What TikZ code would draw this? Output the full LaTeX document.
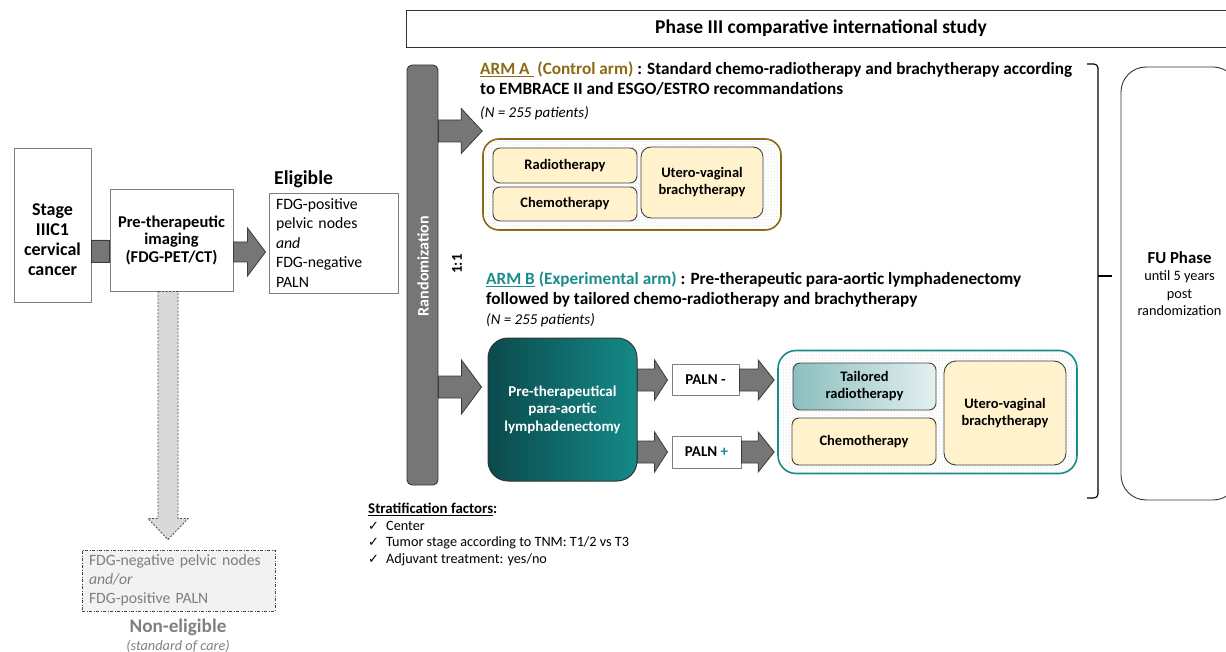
\documentclass[tikz,border=0pt]{standalone}
\usepackage{fontspec}
\setmainfont{Carlito}
\newfontfamily\symfont{DejaVu Sans}
\usetikzlibrary{calc,patterns}

\definecolor{armgold}{HTML}{8A6A14}
\definecolor{armteal}{HTML}{1B8C8A}
\definecolor{cream}{HTML}{FFF2CC}
\definecolor{arrowfill}{HTML}{767676}
\definecolor{arrowline}{HTML}{3A3A3A}
\definecolor{boxline}{HTML}{7F7F7F}
\definecolor{darkteal}{HTML}{0B4A4C}
\definecolor{lightteal}{HTML}{148A88}
\definecolor{softteal}{HTML}{8CBEBE}
\definecolor{paleteal}{HTML}{E4F0F0}
\definecolor{greytext}{HTML}{7F7F7F}

\newcommand\fs[2]{\fontsize{#1}{#2}\selectfont}
\newcommand\tick{{\symfont\fs{13}{16.5}✓}}

% right-pointing block arrow: style, from, to, shaft half-height, head half-height, head length
\newcommand\harrow[6]{\draw[#1] let \p1=#2, \p2=#3 in
  ({\x1},{\y1+#4pt}) -- ({\x2-#6pt},{\y1+#4pt}) -- ({\x2-#6pt},{\y1+#5pt}) -- ({\x2},{\y1})
  -- ({\x2-#6pt},{\y1-#5pt}) -- ({\x2-#6pt},{\y1-#4pt}) -- ({\x1},{\y1-#4pt}) -- cycle;}
% downward block arrow: style, from, to, shaft half-width, head half-width, head length
\newcommand\varrow[6]{\draw[#1] let \p1=#2, \p2=#3 in
  ({\x1-#4pt},{\y1}) -- ({\x1-#4pt},{\y2+#6pt}) -- ({\x1-#5pt},{\y2+#6pt}) -- ({\x1},{\y2})
  -- ({\x1+#5pt},{\y2+#6pt}) -- ({\x1+#4pt},{\y2+#6pt}) -- ({\x1+#4pt},{\y1}) -- cycle;}

\begin{document}
\begin{tikzpicture}[x=1pt,y=-1pt,
  plain/.style={draw=boxline, line width=0.9pt, fill=white, inner sep=0pt, align=center},
  blockarrow/.style={fill=arrowfill, draw=arrowline, line width=0.8pt, line join=miter},
  dasharrow/.style={fill=gray!30, draw=gray!60!black, line width=0.8pt, dash pattern=on 2pt off 1.5pt},
  cell/.style={draw=black!75, line width=0.9pt, fill=cream, rounded corners=7pt, inner sep=0pt,
    align=center, font=\fs{14.5}{17}\bfseries},
  container/.style={rounded corners=16pt, line width=1.6pt, pattern=dots, pattern color=black!22, inner sep=0pt},
  palnbox/.style={draw=boxline, line width=0.9pt, fill=white, inner sep=0pt, font=\fs{15}{18}\bfseries},
]
\useasboundingbox (0,0) rectangle (1226,652);

% arrow levels
\coordinate (lvA) at (0,251);
\coordinate (lvB) at (0,252);
\coordinate (lvC) at (0,131);
\coordinate (lvD) at (0,387);
\coordinate (lvE) at (0,380);
\coordinate (lvF) at (0,452);
\coordinate (colN) at (168,0);

% left part: screening
\node[plain, minimum width=77pt, minimum height=154pt] (stage) at (52.5,225) {};
\node[inner sep=0pt, align=center, font=\fs{18}{20}\bfseries] (stagetxt) at (52.5,240)
  {Stage\\IIIC1\\cervical\\cancer};
\node[plain, minimum width=123pt, minimum height=102pt, font=\fs{16.5}{17.5}\bfseries]
  (pre) at (171.5,240) {Pre-therapeutic\\imaging\\(FDG-PET/CT)};
\node[plain, minimum height=100pt, text width=115pt, inner xsep=7pt, align=left, font=\fs{15.8}{19.5}]
  (elig) at (333.5,243) {FDG-positive\\pelvic nodes\\\textit{and}\\FDG-negative\\PALN};
\node[anchor=west, inner sep=0pt, font=\fs{19.7}{22}\bfseries] (eligtitle) at (274,179) {Eligible};

\harrow{blockarrow}{(stage.east |- lvA)}{(pre.west |- lvA)}{11}{11}{0}
\harrow{blockarrow}{(pre.east |- lvB)}{([xshift=-3pt]elig.west |- lvB)}{10}{24}{18}

% non-eligible branch
\node[draw=gray!55!black, line width=0.9pt, dash pattern=on 3pt off 1.5pt on 1pt off 1.5pt,
  fill=gray!10, minimum height=61pt, text width=179pt, inner xsep=7pt, inner ysep=0pt, align=left,
  text=greytext, font=\fs{15.7}{19}] (nonelig) at (178.5,580.5)
  {FDG-negative pelvic nodes\\\textit{and/or}\\FDG-positive PALN};
\varrow{dasharrow}{(colN |- pre.south)}{([yshift=10pt]nonelig.north -| colN)}{10}{20}{21}
\node[text=greytext, inner sep=0pt, font=\fs{19.2}{22}\bfseries] (noneligtitle) at (178,627) {Non-eligible};
\node[text=greytext, inner sep=0pt, font=\fs{14.3}{16}\itshape] (soc) at (178,646) {(standard of care)};

% study header
\node[draw=black!80, line width=0.9pt, minimum width=830pt, minimum height=37pt, inner sep=0pt,
  font=\fs{19.5}{22}\bfseries] (header) at (821,28.5) {Phase III comparative international study};

% randomization bar
\node[fill=arrowfill, draw=arrowline, line width=0.9pt, rounded corners=5pt,
  minimum width=31pt, minimum height=420pt, inner sep=0pt] (bar) at (422.5,275) {};
\node[rotate=90, text=white, inner sep=0pt, font=\fs{16}{19}\bfseries] (randtxt) at (423,266) {Randomization};
\node[rotate=90, inner sep=0pt, font=\fs{15}{18}\bfseries] (ratio) at (457,264) {1:1};

% arm A
\node[anchor=north west, align=left, inner sep=0pt, font=\fs{17.2}{20}\bfseries] (armAtitle) at (480,62)
  {{\color{armgold}\underline{ARM A\ }\ (Control arm)} : Standard chemo-radiotherapy and brachytherapy according\\
   to EMBRACE II and ESGO/ESTRO recommandations};
\node[anchor=west, inner sep=0pt, font=\fs{15}{17}\itshape] (armAn) at (480,113) {(N = 255 patients)};
\node[container, draw=armgold, minimum width=298pt, minimum height=91pt] (armA) at (632,184.5) {};
\node[cell, minimum width=144pt, minimum height=35pt] (radA) at (565,165.5) {Radiotherapy};
\node[cell, minimum width=144pt, minimum height=34pt] (chemoA) at (565,204) {Chemotherapy};
\node[cell, rounded corners=10pt, minimum width=122pt, minimum height=71pt] (brachyA) at (702,182.5)
  {Utero-vaginal\\brachytherapy};
\harrow{blockarrow}{(bar.east |- lvC)}{(armA.west |- lvC)}{11}{22.5}{21}

% arm B
\node[anchor=north west, align=left, inner sep=0pt, font=\fs{17.2}{20}\bfseries] (armBtitle) at (486,272)
  {{\color{armteal}\underline{ARM B} (Experimental arm)} : Pre-therapeutic para-aortic lymphadenectomy\\
   followed by tailored chemo-radiotherapy and brachytherapy};
\node[anchor=west, inner sep=0pt, font=\fs{15}{17}\itshape] (armBn) at (486,320) {(N = 255 patients)};

\node[draw=black!80, line width=1pt, rounded corners=20pt, left color=darkteal, right color=lightteal,
  minimum width=149pt, minimum height=143pt, inner sep=0pt, align=center, text=white,
  font=\fs{15}{17.5}\bfseries] (lymph) at (562.5,409.5) {Pre-therapeutical\\para-aortic\\lymphadenectomy};
\harrow{blockarrow}{(bar.east |- lvD)}{([xshift=-6pt]lymph.west |- lvD)}{11}{27}{20}

\node[palnbox, minimum width=67pt, minimum height=31pt] (palnm) at (705.5,379.5) {PALN -};
\node[palnbox, minimum width=69pt, minimum height=32pt] (palnp) at (706.5,452) {PALN \textcolor{armteal}{+}};
\harrow{blockarrow}{(lymph.east |- lvE)}{([xshift=-4pt]palnm.west |- lvE)}{11}{20}{13}
\harrow{blockarrow}{(lymph.east |- lvF)}{([xshift=-4pt]palnp.west |- lvF)}{11}{20}{13}

\node[container, rounded corners=18pt, draw=armteal, minimum width=299pt, minimum height=123pt] (armB) at (927.5,412) {};
\node[cell, left color=softteal, right color=paleteal, minimum width=143pt, minimum height=47pt] (tailored)
  at (864.5,386.5) {Tailored\\radiotherapy};
\node[cell, minimum width=144pt, minimum height=47pt] (chemoB) at (864,441.5) {Chemotherapy};
\node[cell, rounded corners=12pt, minimum width=122pt, minimum height=104pt] (brachyB) at (1005,413)
  {Utero-vaginal\\brachytherapy};
\harrow{blockarrow}{(palnm.east |- lvE)}{([xshift=-3pt]armB.west |- lvE)}{11}{20}{16}
\harrow{blockarrow}{(palnp.east |- lvF)}{([xshift=-3pt]armB.west |- lvF)}{11}{20}{16}

% stratification
\node[anchor=north west, align=left, inner sep=0pt, font=\fs{14.2}{16.5}] (strat) at (368,503)
  {{\fs{14.9}{16.5}\bfseries\underline{Stratification factors}:}\\
   \tick\enspace Center\\
   \tick\enspace Tumor stage according to TNM: T1/2 vs T3\\
   \tick\enspace Adjuvant treatment: yes/no};

% follow-up
\node[draw=black!80, line width=0.9pt, rounded corners=25pt, minimum width=117pt, minimum height=433pt,
  inner sep=0pt, align=center, font=\fs{14.3}{17.5}] (fu) at (1179.5,283.5)
  {{\fs{16.8}{17.5}\bfseries FU Phase}\\until 5 years\\post\\randomization};
\coordinate (bracetip) at (1112,276);
\draw[line width=1.1pt, rounded corners=4pt] (1087,64) -- (1098,64) -- (1098,498) -- (1087,498);
\draw[line width=1.1pt] (1098,276) -- (bracetip);

\end{tikzpicture}
\end{document}
